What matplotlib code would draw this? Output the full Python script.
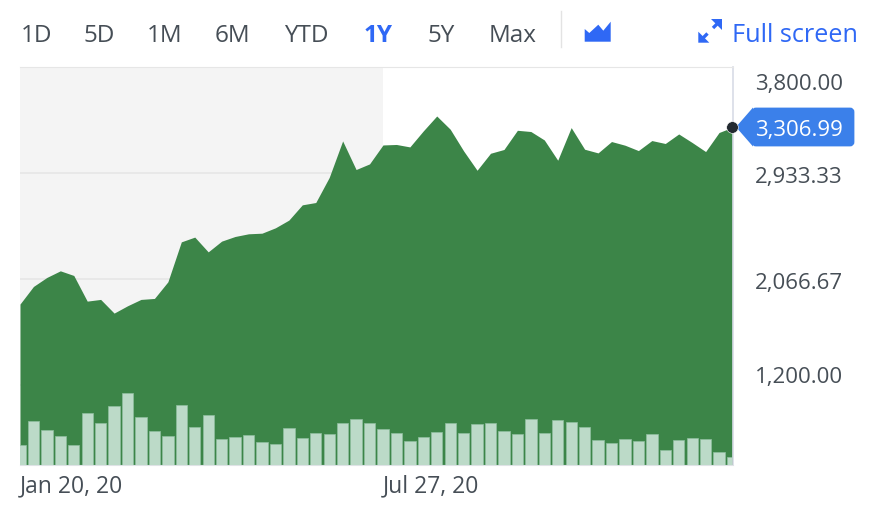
import matplotlib
matplotlib.use('Agg')
import matplotlib.pyplot as plt
from matplotlib.patches import Polygon, FancyBboxPatch
from matplotlib.transforms import ScaledTranslation
import pandas as pd

plt.rcParams['font.family'] = ['Open Sans', 'DejaVu Sans']

# weekly closes
close = [1860, 2004, 2078, 2132, 2094, 1884, 1898, 1786, 1846, 1898,
         1906, 2042, 2369, 2408, 2287, 2375, 2413, 2435, 2440, 2484,
         2547, 2672, 2691, 2896, 3195, 2961, 3007, 3162, 3166, 3146,
         3277, 3399, 3291, 3113, 2955, 3094, 3125, 3282, 3272, 3203,
         3037, 3304, 3127, 3097, 3190, 3160, 3116, 3198, 3174, 3252,
         3182, 3108, 3264, 3306.99]
volume = [20, 44, 35, 29, 20, 52, 42, 59, 72, 48,
          34, 29, 60, 38, 50, 26, 28, 30, 23, 21,
          37, 27, 32, 31, 42, 46, 42, 36, 32, 24,
          28, 33, 42, 32, 41, 42, 34, 31, 46, 32,
          45, 43, 38, 25, 22, 26, 24, 31, 15, 25,
          27, 26, 13, 8]
dates = pd.date_range('2020-01-20', periods=len(close), freq='7D')

y_ticks = [3800.00, 2933.33, 2066.67, 1200.00]
y_labels = ['3,800.00', '2,933.33', '2,066.67', '1,200.00']
x_tick_dates = [pd.Timestamp('2020-01-20'), pd.Timestamp('2020-07-27')]
x_labels = ['Jan 20, 20', 'Jul 27, 20']
last_label = '3,306.99'

range_tabs = ['1D', '5D', '1M', '6M', 'YTD', '1Y', '5Y', 'Max']
tab_x = [21, 83, 147, 215, 284, 364, 427, 489]

GREEN = '#3c8548'
BAR = '#bcdac8'
BAR_EDGE = '#8fc0a0'
TEXT = '#464e56'
BLUE = '#2f68f5'
TAG = '#3b80ea'
W, H = 888, 506

fig = plt.figure(figsize=(8.88, 5.06), dpi=100)
ax = fig.add_axes([20 / W, 1 - 466 / H, 712.5 / W, 398 / H])

# shaded part of the year
ax.axvspan(dates[0], x_tick_dates[1], color='#f4f4f4', lw=0, zorder=0)
ax.fill_between(dates, close, 0, color=GREEN, lw=0, zorder=2)
ax.set_xlim(dates[0], dates[-1])
ax.set_ylim(543, 3800)

vol_ax = ax.twinx()
vol_ax.set_ylim(0, 398)
vol_ax.bar(dates, volume, width=5.9, color=BAR, edgecolor=BAR_EDGE, lw=0.5, zorder=3)
vol_ax.set_yticks([])
vol_ax.patch.set_visible(False)
for s in vol_ax.spines.values():
    s.set_visible(False)

# twinx moves the ticks back to the left, so set them up after it
ax.set_yticks(y_ticks)
ax.set_yticklabels(y_labels, fontsize=16, color=TEXT)
ax.yaxis.tick_right()
ax.tick_params(axis='y', length=0, pad=16)
ax.set_xticks(x_tick_dates)
ax.set_xticklabels(x_labels, fontsize=16.5, color=TEXT, ha='left')
ax.tick_params(axis='x', length=0, pad=6)
ax.grid(axis='y', color='#e6e6e6', lw=1.2, zorder=1)
ax.set_axisbelow(True)
ax.spines['left'].set_visible(False)
ax.spines['top'].set_color('#e6e6e6')
ax.spines['bottom'].set_color('#dfe3e6')
ax.spines['right'].set_color('#d8dbe6')
ax.spines['right'].set_linewidth(1.2)

# outer labels sit inside the plot height, nudge them (pixels, down is positive)
for lbl, dy in zip(ax.get_yticklabels(), [14, 1, 1, -11]):
    lbl.set_transform(lbl.get_transform() + ScaledTranslation(0, -dy / 100, fig.dpi_scale_trans))

# everything outside the plot, placed in pixels
ui = fig.add_axes([0, 0, 1, 1])
ui.set_xlim(0, W)
ui.set_ylim(H, 0)
ui.axis('off')
ui.patch.set_visible(False)

for name, x in zip(range_tabs, tab_x):
    active = name == '1Y'
    ui.text(x, 42, name, fontsize=17.5, color=BLUE if active else TEXT,
            fontweight='bold' if active else 'normal', va='baseline', ha='left')
ui.plot([561, 561], [12, 48], color='#e3e3e3', lw=1)
ui.add_patch(Polygon([(584.7, 30), (589.3, 34), (598.3, 25.7), (603.3, 31.7), (610.7, 22.7),
                      (610.7, 42.7), (584.7, 42.7)], closed=True, color=BLUE, lw=0))
# expand arrows
ui.add_patch(Polygon([(722, 20), (722, 31), (711, 20)], closed=True, color=BLUE, lw=0))
ui.add_patch(Polygon([(698.3, 43.7), (698.3, 32.7), (709.3, 43.7)], closed=True, color=BLUE, lw=0))
ui.plot([713, 718], [29, 24], color=BLUE, lw=2.4, solid_capstyle='butt')
ui.plot([702, 707.5], [40, 34.5], color=BLUE, lw=2.4, solid_capstyle='butt')
ui.text(732, 42, 'Full screen', fontsize=18.2, color=BLUE, va='baseline', ha='left')

# last price tag
ui.add_patch(Polygon([(736, 128), (753, 108.5), (753, 147.5)], closed=True, color=TAG, lw=0))
ui.add_patch(FancyBboxPatch((753, 110), 100, 36, boxstyle='round,pad=0,rounding_size=3',
                            color=TAG, lw=2))
ui.text(755, 136, last_label, fontsize=16, color='white', va='baseline', ha='left')
ui.plot([731.7], [128], 'o', ms=8.4, color='#232a31', mec='white', mew=0.4, clip_on=False)

fig.savefig('out.png', dpi=100)
